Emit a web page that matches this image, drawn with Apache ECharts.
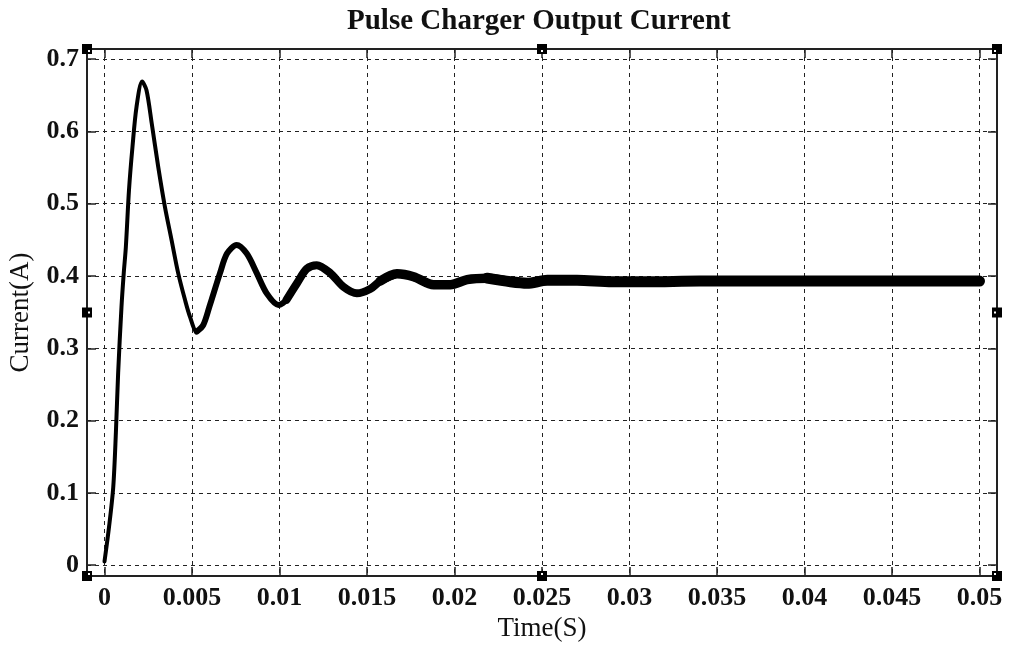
<!DOCTYPE html>
<html>
<head>
<meta charset="utf-8">
<script src="https://cdn.jsdelivr.net/npm/echarts@6/dist/echarts.min.js"></script>
<style>
html,body{margin:0;padding:0;background:#fff;}
#chart{width:1014px;height:645px;}
</style>
</head>
<body>
<div id="chart"></div>
<script>
// ---- data ----
var titleText = 'Pulse Charger Output Current';
var xName = 'Time(S)';
var yName = 'Current(A)';
var xTicks = [0, 0.005, 0.01, 0.015, 0.02, 0.025, 0.03, 0.035, 0.04, 0.045, 0.05];
var yTicks = [0, 0.1, 0.2, 0.3, 0.4, 0.5, 0.6, 0.7];
var xRange = [-0.001, 0.051];
var yRange = [-0.015, 0.714];

var time = [0, 0.00026, 0.0005, 0.00065, 0.00078, 0.00097, 0.0011, 0.00122, 0.0014, 0.0016,
  0.00183, 0.00215, 0.0024, 0.0027, 0.00307, 0.00345, 0.00383, 0.00421, 0.0046, 0.00488,
  0.00527, 0.00564, 0.006, 0.0066, 0.007, 0.00755, 0.00813, 0.0087, 0.00927, 0.00994,
  0.0104, 0.011, 0.01156, 0.01213, 0.0129, 0.01366, 0.01442, 0.01518, 0.01576, 0.01671,
  0.01766, 0.01881, 0.01976, 0.02072, 0.02186, 0.0232, 0.02415, 0.0253, 0.027, 0.029,
  0.031, 0.034, 0.037, 0.040, 0.043, 0.046, 0.05];
var current = [0.005, 0.053, 0.108, 0.183, 0.266, 0.357, 0.404, 0.44, 0.519, 0.579,
  0.634, 0.669, 0.657, 0.611, 0.551, 0.496, 0.45, 0.404, 0.367, 0.344,
  0.323, 0.332, 0.358, 0.404, 0.431, 0.443, 0.431, 0.404, 0.376, 0.36,
  0.367, 0.39, 0.41, 0.415, 0.404, 0.385, 0.376, 0.382, 0.393, 0.403,
  0.399, 0.388, 0.388, 0.395, 0.397, 0.392, 0.39, 0.394, 0.394, 0.392,
  0.392, 0.393, 0.393, 0.393, 0.393, 0.393, 0.393];

// ripple band grows with time: segment boundaries (s) and line widths (px)
var segBounds = [0, 0.0055, 0.011, 0.016, 0.022, 0.05];
var segWidths = [4, 6, 8, 9.5, 11];

var chart = echarts.init(document.getElementById('chart'));
var FONT = '"Liberation Serif", "Times New Roman", serif';
var INK = '#111';

var pairs = time.map(function (t, i) { return [t, current[i]]; });
var series = [];
for (var s = 0; s < segWidths.length; s++) {
  var a = segBounds[s], b = segBounds[s + 1];
  var pts = pairs.filter(function (p) { return p[0] >= a && p[0] <= b; });
  var firstIdx = pairs.indexOf(pts[0]);
  var lastIdx = pairs.indexOf(pts[pts.length - 1]);
  if (firstIdx > 0) pts.unshift(pairs[firstIdx - 1]);
  if (lastIdx < pairs.length - 1) pts.push(pairs[lastIdx + 1]);
  series.push({
    type: 'line', data: pts, smooth: 0.3, symbol: 'none', silent: true,
    xAxisIndex: 0, yAxisIndex: 0,
    lineStyle: { color: '#000', width: segWidths[s], cap: 'round', join: 'round' },
    z: 3
  });
}

var splitStyle = { show: true, lineStyle: { color: '#222', width: 1, type: [4, 4] } };

chart.setOption({
  animation: false,
  backgroundColor: '#fff',
  title: {
    text: titleText, left: 342, top: 2,
    textStyle: { fontFamily: FONT, fontSize: 29, fontWeight: 'bold', color: INK }
  },
  grid: { left: 87, right: 17, top: 49, bottom: 69, containLabel: false, outerBoundsMode: 'none' },
  xAxis: [{
    type: 'value', min: xRange[0], max: xRange[1], position: 'bottom',
    name: xName, nameLocation: 'middle', nameGap: 37,
    nameTextStyle: { fontFamily: FONT, fontSize: 27, color: INK },
    axisLine: { show: true, onZero: false, lineStyle: { color: '#222', width: 2 } },
    axisTick: { show: true, inside: true, length: 9, customValues: xTicks, lineStyle: { color: '#222', width: 1.5 } },
    axisLabel: { show: true, customValues: xTicks, margin: 9, fontFamily: FONT, fontSize: 26, fontWeight: 'bold', color: INK,
      formatter: function (v) { return String(v); } },
    splitLine: splitStyle
  }, {
    type: 'value', min: xRange[0], max: xRange[1], position: 'top',
    axisLine: { show: true, onZero: false, lineStyle: { color: '#222', width: 2 } },
    axisTick: { show: true, inside: true, length: 9, customValues: xTicks, lineStyle: { color: '#222', width: 1.5 } },
    axisLabel: { show: false },
    splitLine: { show: false }
  }],
  yAxis: [{
    type: 'value', min: yRange[0], max: yRange[1], position: 'left',
    name: yName, nameLocation: 'middle', nameGap: 53,
    nameTextStyle: { fontFamily: FONT, fontSize: 27, color: INK },
    axisLine: { show: true, onZero: false, lineStyle: { color: '#222', width: 2 } },
    axisTick: { show: true, inside: true, length: 9, customValues: yTicks, lineStyle: { color: '#222', width: 1.5 } },
    axisLabel: { show: true, customValues: yTicks, margin: 8, fontFamily: FONT, fontSize: 26, fontWeight: 'bold', color: INK,
      formatter: function (v) { return String(v); } },
    splitLine: splitStyle
  }, {
    type: 'value', min: yRange[0], max: yRange[1], position: 'right',
    axisLine: { show: true, onZero: false, lineStyle: { color: '#222', width: 2 } },
    axisTick: { show: true, inside: true, length: 9, customValues: yTicks, lineStyle: { color: '#222', width: 1.5 } },
    axisLabel: { show: false },
    splitLine: { show: false }
  }],
  series: series
});

// selection handles at corners and mid-edges of the axes box
var xm = (xRange[0] + xRange[1]) / 2, ym = (yRange[0] + yRange[1]) / 2;
var handlePts = [[xRange[0], yRange[1]], [xm, yRange[1]], [xRange[1], yRange[1]],
                 [xRange[0], ym], [xRange[1], ym],
                 [xRange[0], yRange[0]], [xm, yRange[0]], [xRange[1], yRange[0]]];
var g = [];
handlePts.forEach(function (p) {
  var px = chart.convertToPixel({ xAxisIndex: 0, yAxisIndex: 0 }, p);
  g.push({ type: 'rect', shape: { x: px[0] - 5, y: px[1] - 5, width: 10, height: 10 },
    style: { fill: '#000' }, z: 100, silent: true });
  var dx = p[0] === xRange[0] ? 1 : (p[0] === xRange[1] ? -3 : -1);
  var dy = p[1] === yRange[1] ? 1 : (p[1] === yRange[0] ? -3 : -1);
  g.push({ type: 'rect', shape: { x: px[0] + dx, y: px[1] + dy, width: 2, height: 2 },
    style: { fill: '#fff' }, z: 101, silent: true });
});
chart.setOption({ graphic: g });
</script>
</body>
</html>
